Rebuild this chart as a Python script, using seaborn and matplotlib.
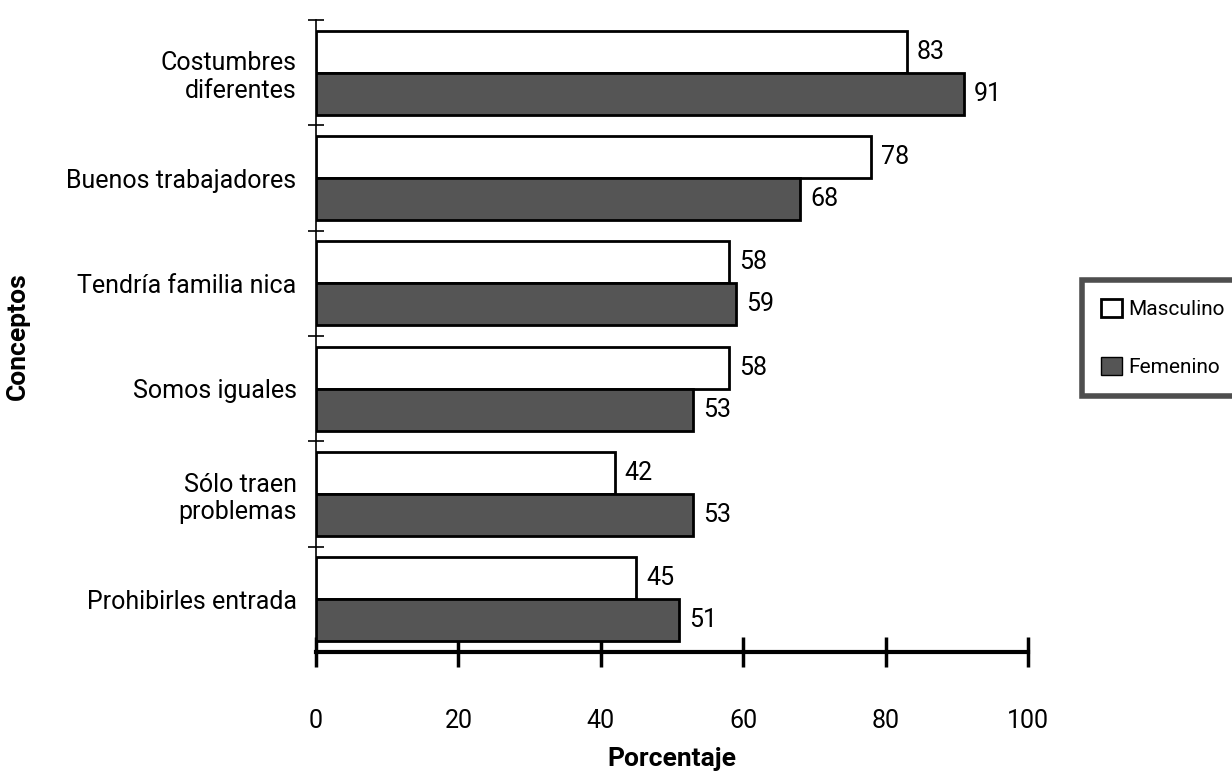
import matplotlib
matplotlib.use("Agg")
import matplotlib.pyplot as plt
import seaborn as sns
import pandas as pd

# Data
conceptos = ["Costumbres\ndiferentes", "Buenos trabajadores", "Tendría familia nica",
             "Somos iguales", "Sólo traen\nproblemas", "Prohibirles entrada"]
masculino = [83, 78, 58, 58, 42, 45]
femenino = [91, 68, 59, 53, 53, 51]
series = ["Masculino", "Femenino"]

df = pd.DataFrame({
    "concepto": conceptos * 2,
    "valor": masculino + femenino,
    "sexo": [series[0]] * len(conceptos) + [series[1]] * len(conceptos),
})

sns.set_style("white")
plt.rcParams["font.family"] = ["Roboto", "DejaVu Sans"]
plt.rcParams["text.color"] = "black"
plt.rcParams["xtick.color"] = "black"
plt.rcParams["ytick.color"] = "black"
plt.rcParams["axes.labelcolor"] = "black"

fig = plt.figure(figsize=(12.32, 7.75), dpi=100)
ax = fig.add_axes([316 / 1232, 1 - 652 / 775, (1028 - 316) / 1232, (652 - 20) / 775])

sns.barplot(data=df, y="concepto", x="valor", hue="sexo", orient="h",
            palette={"Masculino": "white", "Femenino": "#555555"},
            edgecolor="black", linewidth=2, width=0.8, ax=ax, legend=False)

for cont in ax.containers:
    ax.bar_label(cont, padding=7, fontsize=18)

ax.set_xlim(0, 100)
ax.set_ylim(5.5, -0.5)
ax.set_xticks([0, 20, 40, 60, 80, 100])
ax.set_yticks(range(len(conceptos)))
ax.set_yticklabels(conceptos, fontsize=18, ha="right")
ax.set_yticks([i - 0.5 for i in range(len(conceptos))], minor=True)
ax.tick_params(axis="y", which="major", left=False, length=0, pad=14)
ax.tick_params(axis="y", which="minor", left=True, direction="inout", length=12, width=1.2)
ax.tick_params(axis="x", which="major", bottom=True, direction="inout",
               length=22, width=2.5, pad=30, labelsize=18)

sns.despine(ax=ax, top=True, right=True)
ax.spines["bottom"].set_linewidth(3)
ax.spines["bottom"].set_color("black")
ax.spines["left"].set_linewidth(1.2)
ax.spines["left"].set_color("black")

ax.set_xlabel("Porcentaje", fontsize=19, fontweight="bold", labelpad=10)
ax.set_ylabel("Conceptos", fontsize=19, fontweight="bold", labelpad=26)

handles = [plt.Rectangle((0, 0), 1, 1, facecolor="white", edgecolor="black", linewidth=2),
           plt.Rectangle((0, 0), 1, 1, facecolor="#555555", edgecolor="black", linewidth=1)]
leg = fig.legend(handles, series, loc="upper left",
                 bbox_to_anchor=(1082 / 1232, 1 - 280 / 775), borderaxespad=0,
                 fontsize=15, frameon=True, fancybox=False,
                 handlelength=1.0, handleheight=1.0, handletextpad=0.3,
                 labelspacing=1.8, borderpad=0.9)
leg.get_frame().set_linewidth(4)
leg.get_frame().set_edgecolor("#222222")

fig.savefig("out.png", dpi=100)
